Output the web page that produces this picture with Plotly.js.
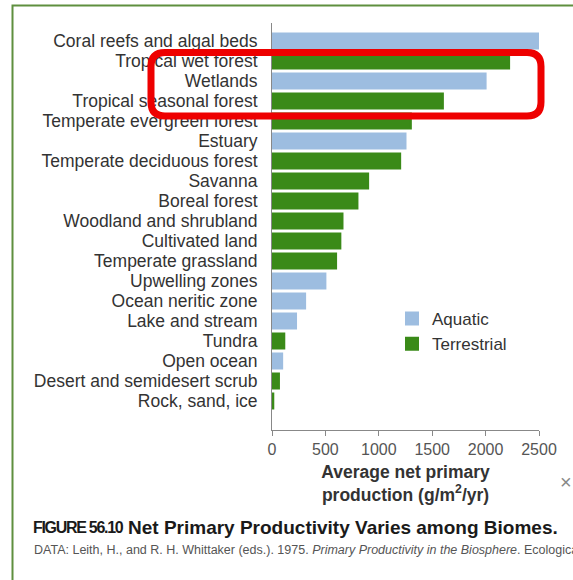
<!DOCTYPE html>
<html>
<head>
<meta charset="utf-8">
<script src="https://cdn.plot.ly/plotly-3.0.1.min.js"></script>
<style>
html,body{margin:0;padding:0;background:#fff;}
text[data-unformatted*="FIGURE 56.10"]{letter-spacing:-1.3px;}
</style>
</head>
<body>
<div id="chart" style="width:573px;height:580px;"></div>
<script>
// Biomes, top to bottom
const biomes = [
  "Coral reefs and algal beds", "Tropical wet forest", "Wetlands", "Tropical seasonal forest",
  "Temperate evergreen forest", "Estuary", "Temperate deciduous forest", "Savanna",
  "Boreal forest", "Woodland and shrubland", "Cultivated land", "Temperate grassland",
  "Upwelling zones", "Ocean neritic zone", "Lake and stream", "Tundra",
  "Open ocean", "Desert and semidesert scrub", "Rock, sand, ice"
];
// Aquatic series
const aquaticBiomes = ["Coral reefs and algal beds", "Wetlands", "Estuary", "Upwelling zones",
  "Ocean neritic zone", "Lake and stream", "Open ocean"];
const aquaticNPP = [2500, 2000, 1250, 500, 310, 225, 95];
// Terrestrial series
const terrestrialBiomes = ["Tropical wet forest", "Tropical seasonal forest", "Temperate evergreen forest",
  "Temperate deciduous forest", "Savanna", "Boreal forest", "Woodland and shrubland", "Cultivated land",
  "Temperate grassland", "Tundra", "Desert and semidesert scrub", "Rock, sand, ice"];
const terrestrialNPP = [2220, 1600, 1300, 1200, 900, 800, 660, 640, 600, 115, 65, 12];
const xTicks = [0, 500, 1000, 1500, 2000, 2500];

const FONT = "Liberation Sans, Arial, Helvetica, sans-serif";
const AQUA = "#9dbde0", TERR = "#3a8a18";

// pixel -> paper helpers (plot area: x 272..539, y 23..430)
const PL = 272, PR = 539, PT = 23, PB = 430;
const px = v => (v - PL) / (PR - PL);
const py = v => (PB - v) / (PB - PT);

// rounded red highlight box path
function roundRect(x0p, y0p, x1p, y1p, r) {
  const x0 = px(x0p), x1 = px(x1p), yt = py(y0p), yb = py(y1p);
  const rx = r / (PR - PL), ry = r / (PB - PT);
  return `M ${x0 + rx},${yt} L ${x1 - rx},${yt} Q ${x1},${yt} ${x1},${yt - ry} ` +
         `L ${x1},${yb + ry} Q ${x1},${yb} ${x1 - rx},${yb} L ${x0 + rx},${yb} ` +
         `Q ${x0},${yb} ${x0},${yb + ry} L ${x0},${yt - ry} Q ${x0},${yt} ${x0 + rx},${yt} Z`;
}

const traces = [
  {
    type: "bar", orientation: "h", name: "Aquatic",
    y: aquaticBiomes, x: aquaticNPP,
    marker: { color: AQUA, line: { width: 2, color: AQUA } },
    hoverinfo: "x+y"
  },
  {
    type: "bar", orientation: "h", name: "Terrestrial",
    y: terrestrialBiomes, x: terrestrialNPP,
    marker: { color: TERR, line: { width: 2, color: TERR } },
    hoverinfo: "x+y"
  }
];

const layout = {
  width: 573, height: 580,
  margin: { l: PL, r: 573 - PR, t: PT, b: 580 - PB, pad: 0 },
  paper_bgcolor: "#ffffff", plot_bgcolor: "#ffffff",
  font: { family: FONT, color: "#333" },
  barmode: "overlay",
  bargap: 0.25,
  showlegend: true,
  legend: {
    x: px(392), y: py(301), xanchor: "left", yanchor: "top",
    font: { family: FONT, size: 17, color: "#333" },
    bgcolor: "rgba(0,0,0,0)", tracegroupgap: 0, itemwidth: 30,
    traceorder: "normal"
  },
  xaxis: {
    range: [0, 2500], tickvals: xTicks, ticktext: xTicks.map(String),
    showgrid: false, zeroline: false,
    showline: true, linecolor: "#888", linewidth: 1,
    ticks: "outside", ticklen: 5, tickcolor: "#888",
    tickfont: { family: FONT, size: 16, color: "#555" },
    title: {
      text: "<b>Average net primary<br>production (g/m<sup>2</sup>/yr)</b>",
      font: { family: FONT, size: 17.5, color: "#333" },
      standoff: 8
    },
    automargin: false, fixedrange: true
  },
  yaxis: {
    type: "category", categoryorder: "array", categoryarray: biomes,
    tickmode: "array", tickvals: biomes, ticktext: biomes,
    range: [19.45, -0.9],
    showgrid: false, zeroline: false,
    showline: true, linecolor: "#888", linewidth: 1,
    ticks: "", ticklabelstandoff: 10,
    tickfont: { family: FONT, size: 17.5, color: "#333" },
    automargin: false, fixedrange: true
  },
  shapes: [
    { type: "path", xref: "paper", yref: "paper", layer: "above",
      path: `M ${px(12.5)},${py(582)} L ${px(12.5)},${py(5.5)} L ${px(576)},${py(5.5)}`,
      line: { color: "#5f8f3f", width: 2 } },
    { type: "path", xref: "paper", yref: "paper", layer: "above",
      path: roundRect(151, 52.5, 541, 116, 14),
      line: { color: "#ee0000", width: 7 } }
  ],
  annotations: [
    { xref: "paper", yref: "paper", x: px(566), y: py(482), xanchor: "center", yanchor: "middle",
      text: "×", showarrow: false, font: { family: FONT, size: 20, color: "#888" } },
    { xref: "paper", yref: "paper", x: px(31), y: py(527), xanchor: "left", yanchor: "middle",
      text: "<b>FIGURE 56.10</b>",
      showarrow: false, font: { family: FONT, size: 16, color: "#1a1a1a" } },
    { xref: "paper", yref: "paper", x: px(126), y: py(527), xanchor: "left", yanchor: "middle",
      text: "<b>Net Primary Productivity Varies among Biomes.</b>",
      showarrow: false, font: { family: FONT, size: 19, color: "#1a1a1a" } },
    { xref: "paper", yref: "paper", x: px(32), y: py(550), xanchor: "left", yanchor: "middle",
      text: "DATA: Leith, H., and R. H. Whittaker (eds.). 1975. <i>Primary Productivity in the Biosphere</i>. Ecological",
      showarrow: false, font: { family: FONT, size: 12.5, color: "#555" } }
  ]
};

Plotly.newPlot("chart", traces, layout, { displayModeBar: false, staticPlot: true });
</script>
</body>
</html>
